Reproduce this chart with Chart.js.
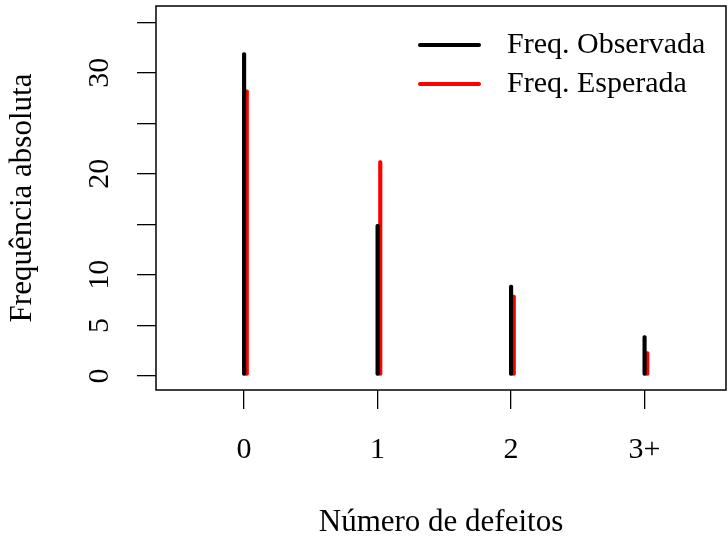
<!DOCTYPE html>
<html lang="pt">
<head>
<meta charset="UTF-8">
<title>Frequência observada vs esperada</title>
<script src="https://cdn.jsdelivr.net/npm/chart.js"></script>
<style>
  html, body { margin: 0; padding: 0; background: #fff; }
</style>
</head>
<body>
<canvas id="chart" width="727" height="544"></canvas>
<script>
  const categories = ['0', '1', '2', '3+'];
  const observed = [32, 15, 9, 4];
  const expected = [28.3, 21.3, 8.0, 2.4];
  const yTicks = [0, 5, 10, 15, 20, 25, 30, 35];
  const yLabels = [0, 5, 10, 20, 30];
  const seriesNames = ['Freq. Observada', 'Freq. Esperada'];

  const FONT = 'Liberation Serif';
  const FS = 30;

  // outer box + rotated y labels + legend, R style
  const rStyle = {
    id: 'rStyle',
    afterDraw(chart) {
      const ctx = chart.ctx;
      const a = chart.chartArea;
      ctx.save();
      ctx.strokeStyle = '#000';
      ctx.lineWidth = 1.5;
      ctx.strokeRect(a.left, a.top, a.right - a.left, a.bottom - a.top);

      const ys = chart.scales.y;
      ctx.fillStyle = '#000';
      ctx.font = FS + 'px "' + FONT + '"';
      ctx.textAlign = 'center';
      ctx.textBaseline = 'middle';
      yLabels.forEach(v => {
        ctx.save();
        ctx.translate(100, ys.getPixelForValue(v));
        ctx.rotate(-Math.PI / 2);
        ctx.fillText(String(v), 0, 0);
        ctx.restore();
      });

      ctx.textAlign = 'left';
      chart.data.datasets.forEach((ds, i) => {
        const y = 45 + i * 39;
        ctx.strokeStyle = ds.backgroundColor;
        ctx.lineWidth = 4;
        ctx.lineCap = 'round';
        ctx.beginPath();
        ctx.moveTo(420, y);
        ctx.lineTo(479, y);
        ctx.stroke();
        ctx.fillText(ds.label, 507, y);
      });
      ctx.restore();
    }
  };

  new Chart(document.getElementById('chart'), {
    type: 'bar',
    data: {
      datasets: [
        {
          label: seriesNames[0],
          data: observed.map((v, i) => ({ x: i, y: v })),
          backgroundColor: '#000000'
        },
        {
          label: seriesNames[1],
          data: expected.map((v, i) => ({ x: i + 0.02, y: v })),
          backgroundColor: '#ff0000'
        }
      ]
    },
    options: {
      responsive: false,
      animation: false,
      devicePixelRatio: 1,
      grouped: false,
      barThickness: 3.5,
      borderRadius: 2,
      borderSkipped: false,
      layout: { padding: { top: 6, right: 1, left: 0, bottom: 0 } },
      plugins: { legend: { display: false }, tooltip: { enabled: false } },
      scales: {
        x: {
          type: 'linear',
          min: -0.66,
          max: 3.61,
          offset: false,
          afterBuildTicks: s => { s.ticks = categories.map((c, i) => ({ value: i })); },
          afterFit: s => { s.height = 154; },
          border: { display: false },
          grid: { offset: false, drawOnChartArea: false, drawTicks: true, tickLength: 19, tickColor: '#000', lineWidth: 1.3 },
          ticks: {
            color: '#000',
            font: { family: FONT, size: FS },
            padding: 23,
            maxRotation: 0,
            autoSkip: false,
            callback: v => categories[v]
          },
          title: {
            display: true,
            text: 'Número de defeitos',
            color: '#000',
            font: { family: FONT, size: 31, lineHeight: 1.2 },
            padding: { top: 0, bottom: 3 }
          }
        },
        y: {
          min: -1.39,
          max: 36.6,
          afterBuildTicks: s => { s.ticks = yTicks.map(v => ({ value: v })); },
          afterFit: s => { s.width = 156; },
          border: { display: false },
          grid: { offset: false, drawOnChartArea: false, drawTicks: true, tickLength: 19, tickColor: '#000', lineWidth: 1.3 },
          ticks: { display: false },
          title: {
            display: true,
            text: 'Frequência absoluta',
            color: '#000',
            font: { family: FONT, size: 31, lineHeight: 1.2 },
            padding: { top: 4, bottom: 0 }
          }
        }
      }
    },
    plugins: [rStyle]
  });
</script>
</body>
</html>
